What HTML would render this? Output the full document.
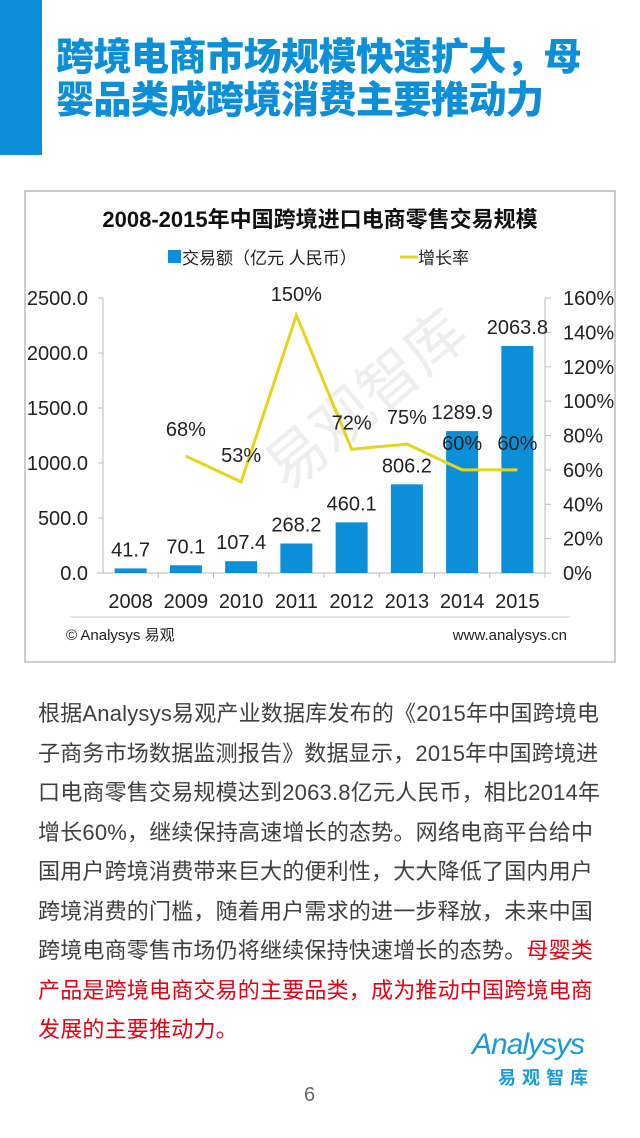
<!DOCTYPE html>
<html><head><meta charset="utf-8"><style>
body{margin:0;width:640px;height:1138px;background:#fff;position:relative;overflow:hidden;font-family:"Liberation Sans","Noto Sans CJK SC",sans-serif}
.abs{position:absolute}
#title{left:56px;top:37px;font-size:38px;font-weight:900;color:#0b8fd9;line-height:43px;white-space:nowrap;letter-spacing:-0.5px}
#para{left:38px;top:694px;font-size:22px;line-height:39.5px;color:#404040;white-space:nowrap;letter-spacing:0.2px}
.red{color:#e60012}
</style></head><body>
<div class="abs" style="left:0;top:0;width:42px;height:155px;background:#0b8fd9"></div>
<div id="title" class="abs">跨境电商市场规模快速扩大，母<br>婴品类成跨境消费主要推动力</div>
<svg class="abs" style="left:0;top:0" width="640" height="680">
<rect x="25" y="191" width="590" height="471" fill="#fff" stroke="#999" stroke-width="1"/>
<text x="320" y="227" text-anchor="middle" font-size="22" font-weight="bold" fill="#111">2008-2015年中国跨境进口电商零售交易规模</text>
<rect x="168" y="250" width="13" height="13" fill="#0b8fd9"/>
<text x="182" y="264" font-size="17" fill="#222">交易额（亿元 人民币）</text>
<line x1="400" y1="257" x2="418" y2="257" stroke="#e8d41f" stroke-width="3"/>
<text x="418" y="264" font-size="17" fill="#222">增长率</text>
<text x="250" y="470" font-size="60" fill="#eee" transform="rotate(-40 300 430)">易观智库</text>
<g id="g"></g>
<line x1="70" y1="617" x2="570" y2="617" stroke="#ccc"/>
<text x="66" y="640" font-size="15" fill="#222">© Analysys 易观</text>
<text x="567" y="640" text-anchor="end" font-size="15" fill="#222">www.analysys.cn</text>
</svg>
<div id="para" class="abs">根据Analysys易观产业数据库发布的《2015年中国跨境电<br>子商务市场数据监测报告》数据显示，2015年中国跨境进<br>口电商零售交易规模达到2063.8亿元人民币，相比2014年<br>增长60%，继续保持高速增长的态势。网络电商平台给中<br>国用户跨境消费带来巨大的便利性，大大降低了国内用户<br>跨境消费的门槛，随着用户需求的进一步释放，未来中国<br>跨境电商零售市场仍将继续保持快速增长的态势。<span class="red">母婴类<br>产品是跨境电商交易的主要品类，成为推动中国跨境电商<br>发展的主要推动力。</span></div>
<div class="abs" style="left:472px;top:1028px;width:160px;height:70px">
<div style="font-size:30px;font-style:italic;color:#1a9ad6;letter-spacing:-1px">Analysys</div>
<div style="font-size:18px;font-weight:bold;color:#1a9ad6;letter-spacing:6px;margin-left:26px;margin-top:2px">易观智库</div>
</div>
<div class="abs" style="left:304px;top:1084px;font-size:20px;color:#666">6</div>
<script>
const years=["2008","2009","2010","2011","2012","2013","2014","2015"];
const amounts=[41.7,70.1,107.4,268.2,460.1,806.2,1289.9,2063.8];
const rates=[null,68,53,150,72,75,60,60];
const leftTicks=[0,500,1000,1500,2000,2500];
const rightTicks=[0,20,40,60,80,100,120,140,160];
const NS="http://www.w3.org/2000/svg";
const g=document.getElementById('g');
const X0=103,X1=545,Y0=573,Y1=298;
const bw=(X1-X0)/years.length;
const xc=i=>X0+bw*(i+0.5);
const yl=v=>Y0-(v/2500)*(Y0-Y1);
const yr=v=>Y0-(v/160)*(Y0-Y1);
function mk(t,a,txt){const e=document.createElementNS(NS,t);for(const k in a)e.setAttribute(k,a[k]);if(txt!=null)e.textContent=txt;g.appendChild(e);return e;}
let e=mk('line',{x1:X0,y1:Y1,x2:X0,y2:Y0,stroke:'#bbb'});


e=mk('line',{x1:X1,y1:Y1,x2:X1,y2:Y0,stroke:'#bbb'});


e=mk('line',{x1:X0-6,y1:Y0,x2:X1,y2:Y0,stroke:'#bbb'});


leftTicks.forEach(v=>{mk('line',{x1:X0-5,y1:yl(v),x2:X0,y2:yl(v),stroke:'#bbb'});
const t=mk('text',{x:X0-15,y:yl(v)+7,'text-anchor':'end','font-size':20,fill:'#222'},v.toFixed(1));

});
rightTicks.forEach(v=>{mk('line',{x1:X1,y1:yr(v),x2:X1+6,y2:yr(v),stroke:'#bbb'});
const t=mk('text',{x:X1+18,y:yr(v)+7,'font-size':20,fill:'#222'},v+'%');

});
years.forEach((y,i)=>{
mk('line',{x1:X0+bw*(i+1),y1:Y0,x2:X0+bw*(i+1),y2:Y0+5,stroke:'#bbb'});
const r=mk('rect',{x:xc(i)-16,y:yl(amounts[i]),width:32,height:Y0-yl(amounts[i]),fill:'#0b8fd9'});


const l=mk('text',{x:xc(i),y:yl(amounts[i])-12,'text-anchor':'middle','font-size':20,fill:'#222'},amounts[i].toFixed(1));


const yt=mk('text',{x:xc(i),y:608,'text-anchor':'middle','font-size':20,fill:'#222'},y);


});
const pts=[];rates.forEach((r,i)=>{if(r!=null)pts.push(xc(i)+','+yr(r));});
const pl=mk('polyline',{points:pts.join(' '),fill:'none',stroke:'#e8d41f','stroke-width':3});


rates.forEach((r,i)=>{if(r==null)return;
const t=mk('text',{x:xc(i),y:yr(r)-(r>100?14:20),'text-anchor':'middle','font-size':20,fill:'#222'},r+'%');

});
</script>
</body></html>
